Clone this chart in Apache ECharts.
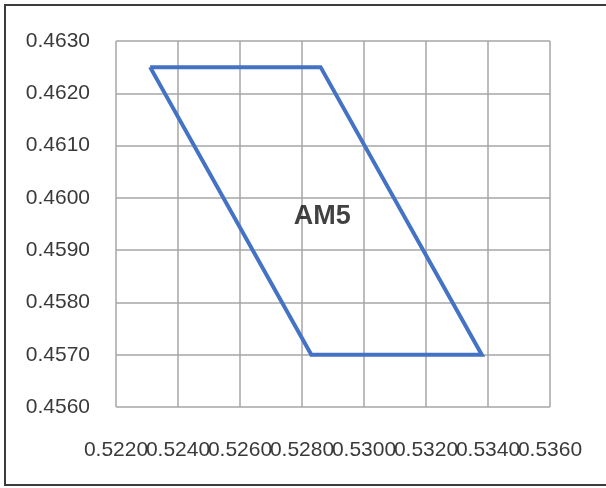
<!DOCTYPE html>
<html>
<head>
<meta charset="utf-8">
<script src="https://cdn.jsdelivr.net/npm/echarts@6/dist/echarts.min.js"></script>
<style>
html,body{margin:0;padding:0;background:#fff;}
#chart{width:606px;height:488px;}
</style>
</head>
<body>
<div id="chart"></div>
<script>
// Parallelogram vertices (closed path)
const xValues = [0.5231, 0.5286, 0.5338, 0.5283, 0.5231];
const yValues = [0.4625, 0.4625, 0.4570, 0.4570, 0.4625];
const xTicks = ['0.5220', '0.5240', '0.5260', '0.5280', '0.5300', '0.5320', '0.5340', '0.5360'];
const yTicks = ['0.4560', '0.4570', '0.4580', '0.4590', '0.4600', '0.4610', '0.4620', '0.4630'];
const labelText = 'AM5';
const labelX = [0.52865];
const labelY = [0.45965];

const FONT = "'Liberation Sans', Arial, sans-serif";

const chart = echarts.init(document.getElementById('chart'), null, {renderer: 'canvas'});
const polyData = xValues.map((x, i) => [x, yValues[i]]);
const xMin = parseFloat(xTicks[0]), xMax = parseFloat(xTicks[xTicks.length - 1]);
const yMin = parseFloat(yTicks[0]), yMax = parseFloat(yTicks[yTicks.length - 1]);

chart.setOption({
  animation: false,
  backgroundColor: '#ffffff',
  grid: {left: 116, right: 56, top: 41, bottom: 81, containLabel: false},
  xAxis: [
    {
      type: 'value',
      min: xMin, max: xMax, interval: 0.002,
      axisLine: {show: false},
      axisTick: {show: false},
      axisLabel: {show: false},
      splitLine: {show: true, lineStyle: {color: '#a6a6a6', width: 1.5}}
    },
    {
      // label-only axis so every tick label is shown even where they touch
      type: 'category',
      position: 'bottom',
      data: xTicks,
      boundaryGap: false,
      axisLine: {show: false},
      axisTick: {show: false},
      splitLine: {show: false},
      axisLabel: {
        interval: 0, color: '#3a3a3a', fontFamily: FONT, fontSize: 21, margin: 33
      }
    }
  ],
  yAxis: {
    type: 'value',
    min: yMin, max: yMax, interval: 0.001,
    axisLine: {show: false},
    axisTick: {show: false},
    splitLine: {show: true, lineStyle: {color: '#a6a6a6', width: 1.5}},
    axisLabel: {
      color: '#3a3a3a', fontFamily: FONT, fontSize: 21, margin: 26,
      formatter: v => v.toFixed(4)
    }
  },
  series: [
    {
      type: 'line',
      xAxisIndex: 0,
      data: polyData,
      showSymbol: false,
      symbol: 'none',
      lineStyle: {color: '#4472c4', width: 4, join: 'miter'},
      z: 3
    },
    {
      type: 'scatter',
      xAxisIndex: 0,
      data: [[labelX[0], labelY[0]]],
      symbolSize: 0,
      label: {
        show: true, position: 'inside', formatter: labelText,
        fontFamily: FONT, fontWeight: 'bold', fontSize: 27, color: '#111111'
      },
      z: 4
    }
  ],
  graphic: [
    {
      type: 'rect',
      shape: {x: 5, y: 5, width: 620, height: 480},
      style: {fill: null, stroke: '#3c3c3c', lineWidth: 2},
      silent: true
    }
  ]
});
</script>
</body>
</html>
